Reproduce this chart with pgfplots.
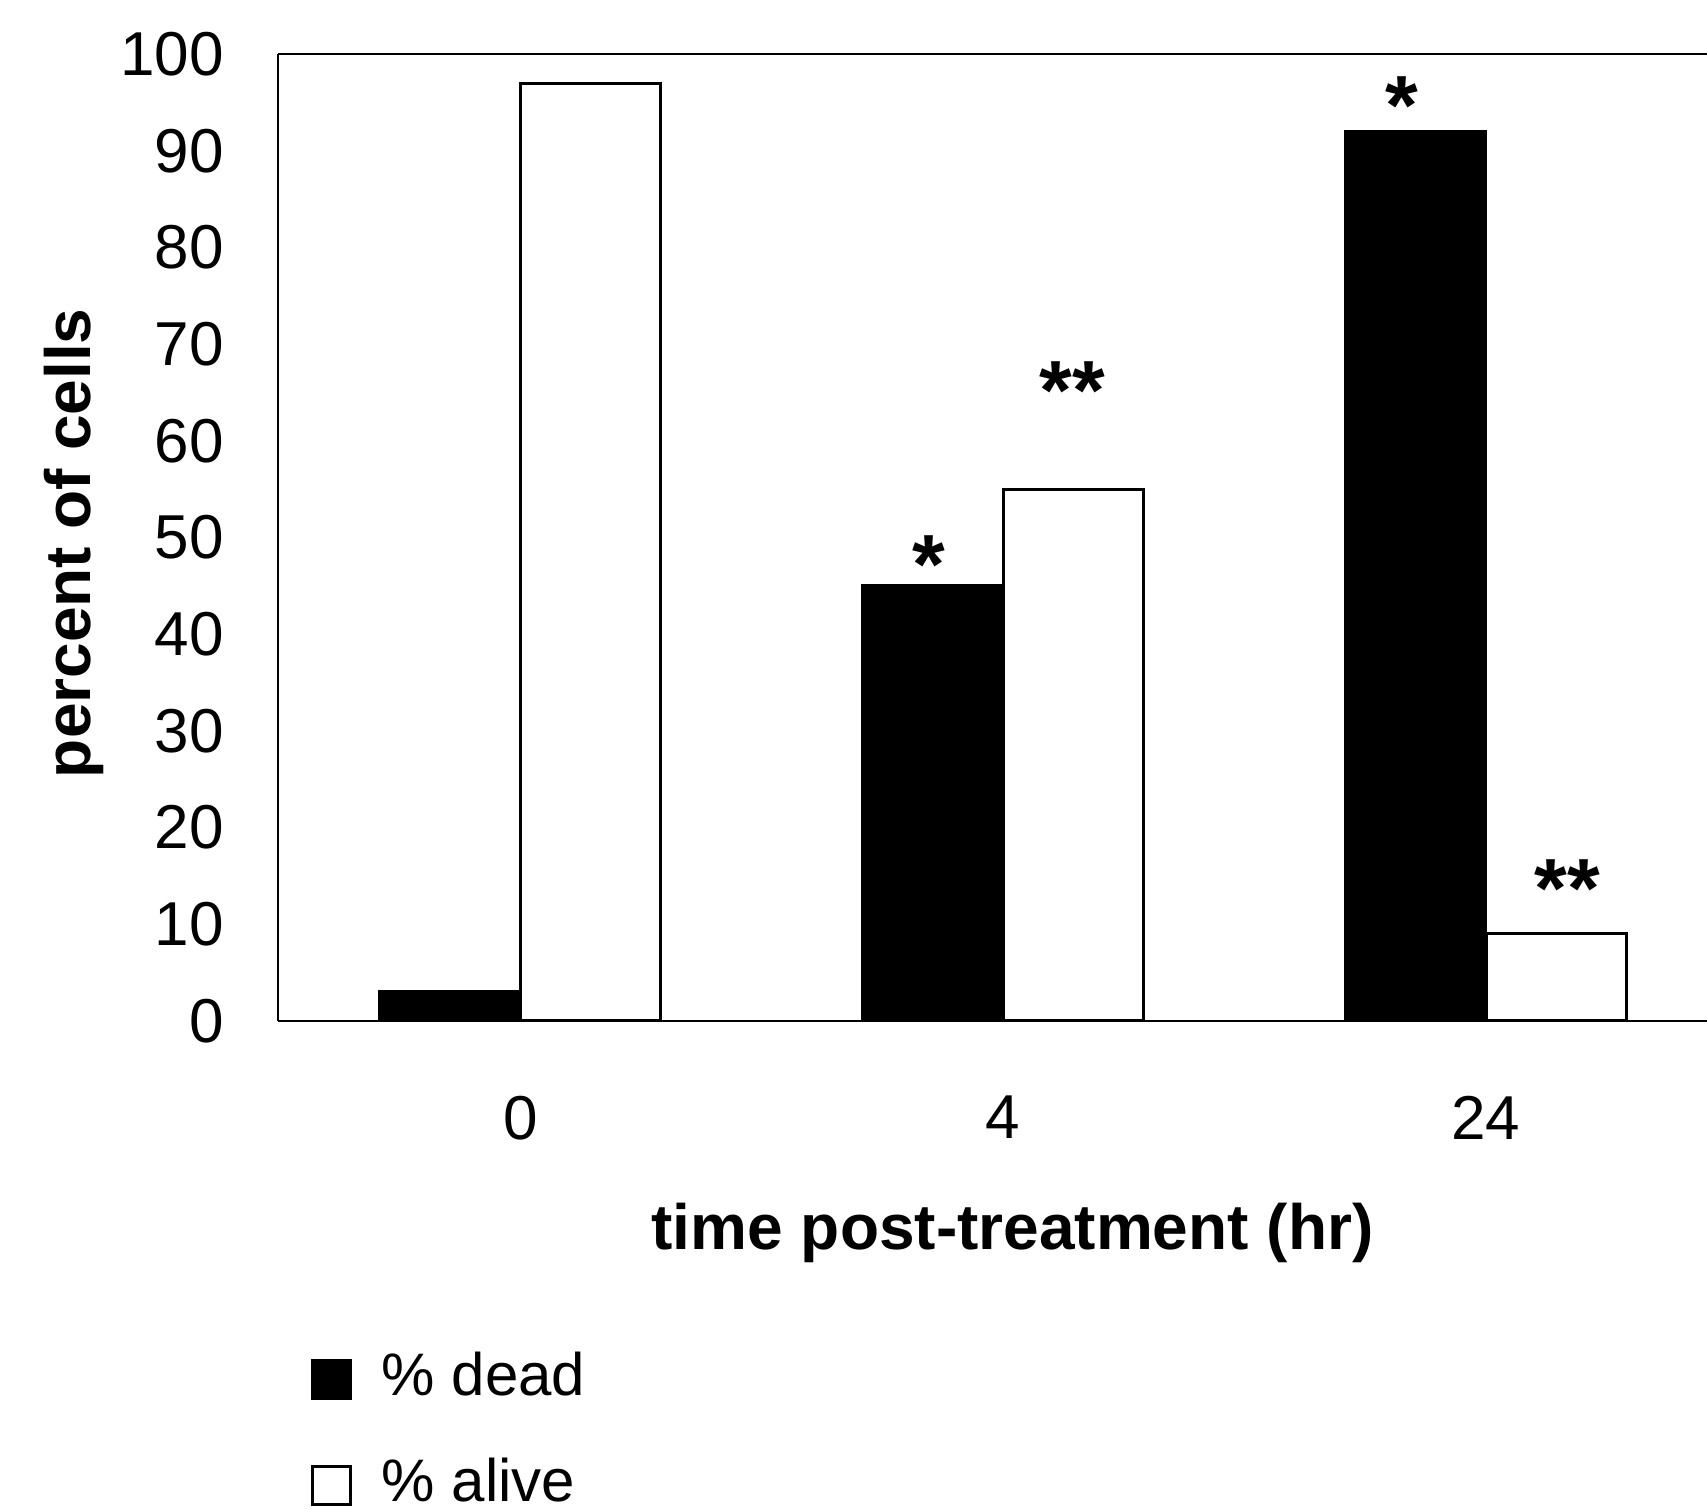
\documentclass[border=0pt]{standalone}
\usepackage{pgfplots}
\pgfplotsset{compat=1.18}
\usepackage{fontspec}
\setmainfont{Liberation Sans}
\begin{document}
\begin{tikzpicture}
\useasboundingbox (-69.5pt,-122.25pt) rectangle (357.25pt,255.25pt);
\begin{axis}[
  scale only axis, width=357.25pt, height=241.75pt,
  xmin=-0.502, xmax=2.458, ymin=0, ymax=100,
  axis x line*=box, axis y line*=left,
  axis line style={line width=0.6pt},
  xtick={0,1,2}, xticklabels={0,4,24},
  ytick={0,10,...,100},
  major tick length=0pt,
  tick label style={font=\fontsize{15.5}{18}\selectfont},
  /pgf/number format/assume math mode=true,
  yticklabel style={xshift=-10pt},
  xticklabel style={yshift=-15.3pt},
  xlabel={time post-treatment (hr)},
  ylabel={percent of cells},
  label style={font=\bfseries\fontsize{16}{19}\selectfont},
  xlabel style={at={(axis description cs:0.514,-0.2192)}, anchor=center},
  ylabel style={at={(axis description cs:-0.1428,0.494)}, anchor=center},
  legend style={at={(axis description cs:0,0)}, anchor=north west,
    xshift=8pt, yshift=-82.5pt, draw=none, fill=none, inner sep=0pt,
    row sep=12.5pt, font=\fontsize{15}{18}\selectfont,
    nodes={text height=11pt, text depth=3pt, inner sep=0pt},
    /tikz/every odd column/.append style={column sep=7.5pt}},
  legend cell align=left,
]
% % dead
\addplot[ybar, bar width=0.29, bar shift=0pt, fill=black, draw=black, line width=0.75pt,
  legend image code/.code={\draw[fill=black,line width=0.75pt] (0pt,-4.75pt) rectangle (9.5pt,4.75pt);}]
  coordinates {(-0.146,3) (0.854,45) (1.854,92)};
\addlegendentry{\% dead}
% % alive
\addplot[ybar, bar width=0.29, bar shift=0pt, fill=white, draw=black, line width=0.75pt,
  legend image code/.code={\draw[fill=white,line width=0.75pt] (0pt,-4.75pt) rectangle (9.5pt,4.75pt);}]
  coordinates {(0.146,97) (1.146,55) (2.146,9)};
\addlegendentry{\% alive}

\node[font=\bfseries\fontsize{21}{21}\selectfont, anchor=base, yshift=-10pt] at (axis cs:0.846,48.3) {*};
\node[font=\bfseries\fontsize{21}{21}\selectfont, anchor=base, yshift=-10pt] at (axis cs:1.143,66.3) {**};
\node[font=\bfseries\fontsize{21}{21}\selectfont, anchor=base, yshift=-10pt] at (axis cs:1.826,95.8) {*};
\node[font=\bfseries\fontsize{21}{21}\selectfont, anchor=base, yshift=-10pt] at (axis cs:2.169,14.8) {**};
\end{axis}
\end{tikzpicture}
\end{document}
